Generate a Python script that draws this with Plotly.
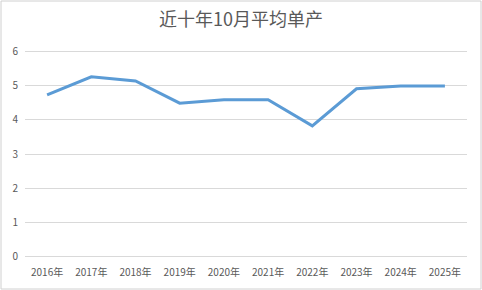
import plotly.graph_objects as go

years = ["2016年", "2017年", "2018年", "2019年", "2020年", "2021年", "2022年", "2023年", "2024年", "2025年"]
values = [4.72, 5.25, 5.13, 4.48, 4.58, 4.58, 3.82, 4.90, 4.98, 4.98]
y_ticks = [0, 1, 2, 3, 4, 5, 6]
title_text = "近十年10月平均单产"

W, H = 482, 290
ml, mr, mt, mb = 25, 15, 50, 32
pw, ph = W - ml - mr, H - mt - mb

fig = go.Figure(go.Scatter(
    x=years, y=values, mode="lines",
    line=dict(color="#5B9BD5", width=3),
    hoverinfo="x+y",
))

fig.update_layout(
    width=W, height=H,
    margin=dict(l=ml, r=mr, t=mt, b=mb),
    paper_bgcolor="white", plot_bgcolor="white",
    font=dict(family="Noto Sans CJK SC, Noto Sans, sans-serif", color="#595959", size=10),
    showlegend=False,
    title=dict(text=title_text, x=0.5, xanchor="center", y=1 - 20 / H, yanchor="middle",
               font=dict(size=18, color="#595959")),
    xaxis=dict(showgrid=False, showline=False, zeroline=False,
               range=[-0.5, len(years) - 0.5],
               ticks="outside", ticklen=5, tickcolor="rgba(0,0,0,0)",
               tickfont=dict(size=10, color="#595959")),
    yaxis=dict(range=[-0.03, 6.03], tickvals=y_ticks, showgrid=True, gridcolor="#D9D9D9",
               gridwidth=1, zeroline=False, showline=False,
               ticks="outside", ticklen=4, tickcolor="rgba(0,0,0,0)",
               tickfont=dict(size=10, color="#595959")),
    shapes=[
        dict(type="rect", xref="paper", yref="paper",
             x0=(-ml + 1) / pw, x1=(pw + mr - 1) / pw,
             y0=(-mb + 1) / ph, y1=(ph + mt - 1) / ph,
             line=dict(color="#D0D0D0", width=1), fillcolor="rgba(0,0,0,0)"),
    ],
)

fig.write_html("out.html")
